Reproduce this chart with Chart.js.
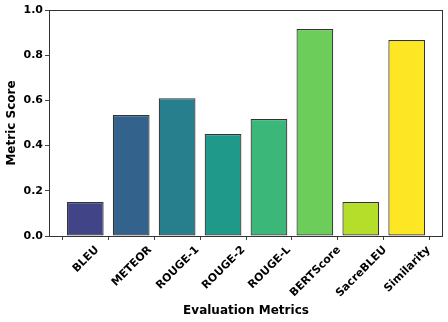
<!DOCTYPE html>
<html>
<head>
<meta charset="utf-8">
<script src="https://cdn.jsdelivr.net/npm/chart.js@4"></script>
<style>
  html, body { margin: 0; padding: 0; background: #fff; }
  #wrap { width: 448px; height: 322px; }
</style>
</head>
<body>
<div id="wrap"><canvas id="metricsChart" width="448" height="322"></canvas></div>
<script>
// Data
const metricNames = ["BLEU", "METEOR", "ROUGE-1", "ROUGE-2", "ROUGE-L", "BERTScore", "SacreBLEU", "Similarity"];
const metricScores = [0.150, 0.535, 0.610, 0.451, 0.518, 0.916, 0.150, 0.867];
const barColors = ["#414487", "#33638d", "#277f8e", "#1f9a8a", "#3bb77a", "#6ccd5a", "#b5de2b", "#fde725"];
const yTicks = [0.0, 0.2, 0.4, 0.6, 0.8, 1.0];

const labelFont = "bold 11px 'DejaVu Sans'";

// Box around the plot area
const frameBox = {
    id: "frameBox",
    afterDatasetsDraw(chart) {
        const { ctx, chartArea } = chart;
        ctx.save();
        ctx.strokeStyle = "#333";
        ctx.lineWidth = 1;
        ctx.strokeRect(Math.round(chartArea.left) + 0.5, Math.round(chartArea.top) + 0.5,
            Math.round(chartArea.right - chartArea.left) - 1, Math.round(chartArea.bottom - chartArea.top));
        ctx.restore();
    },
};

// Rotated x labels centred under their ticks (matplotlib style)
const centredLabels = {
    id: "centredLabels",
    afterDraw(chart) {
        const { ctx } = chart;
        const xScale = chart.scales.x;
        const h = 12.8;
        const c = Math.SQRT1_2;
        ctx.save();
        ctx.font = labelFont;
        ctx.fillStyle = "#000";
        ctx.textAlign = "right";
        ctx.textBaseline = "bottom";
        metricNames.forEach((name, i) => {
            const w = ctx.measureText(name).width;
            const px = xScale.getPixelForValue(i) + (w + h) * c / 2;
            const py = xScale.top + 7 + h * c;
            ctx.save();
            ctx.translate(px, py);
            ctx.rotate(-Math.PI / 4);
            ctx.fillText(name, 0, 0);
            ctx.restore();
        });
        ctx.restore();
    },
};

function renderChart() {
    const ctx = document.getElementById("metricsChart").getContext("2d");
    new Chart(ctx, {
        type: "bar",
        data: {
            datasets: [
                {
                    label: "Metric Score",
                    data: metricScores.map((v, i) => ({ x: i, y: v })),
                    backgroundColor: barColors,
                    borderColor: "#333",
                    borderWidth: 1.2,
                    borderSkipped: false,
                    categoryPercentage: 1,
                    barPercentage: 0.8,
                },
            ],
        },
        options: {
            responsive: false,
            animation: false,
            layout: { padding: { top: 10, right: 5, left: 0, bottom: 0 } },
            plugins: {
                legend: { display: false },
                tooltip: { enabled: false },
            },
            scales: {
                x: {
                    type: "linear",
                    offset: false,
                    min: -0.79,
                    max: 7.79,
                    afterBuildTicks: (scale) => {
                        scale.ticks = metricNames.map((n, i) => ({ value: i }));
                    },
                    afterFit: (scale) => { scale.height = 86; },
                    grid: { drawOnChartArea: false, tickLength: 4, tickColor: "#444" },
                    border: { display: false },
                    ticks: { display: false },
                    title: {
                        display: true,
                        text: "Evaluation Metrics",
                        color: "#000",
                        font: { family: "DejaVu Sans", weight: "bold", size: 12 },
                        padding: { top: 0, bottom: 4 },
                    },
                },
                y: {
                    min: 0,
                    max: 1,
                    afterBuildTicks: (scale) => {
                        scale.ticks = yTicks.map((v) => ({ value: v }));
                    },
                    afterFit: (scale) => { scale.width = 49; },
                    grid: { drawOnChartArea: false, tickLength: 4, tickColor: "#444" },
                    border: { display: false },
                    ticks: {
                        padding: 2,
                        color: "#000",
                        font: { family: "DejaVu Sans", weight: "bold", size: 11 },
                        callback: (v) => v.toFixed(1),
                    },
                    title: {
                        display: true,
                        text: "Metric Score",
                        color: "#000",
                        font: { family: "DejaVu Sans", weight: "bold", size: 12 },
                        padding: { top: 5, bottom: 0 },
                    },
                },
            },
        },
        plugins: [frameBox, centredLabels],
    });
}

document.addEventListener("DOMContentLoaded", renderChart);
</script>
</body>
</html>
